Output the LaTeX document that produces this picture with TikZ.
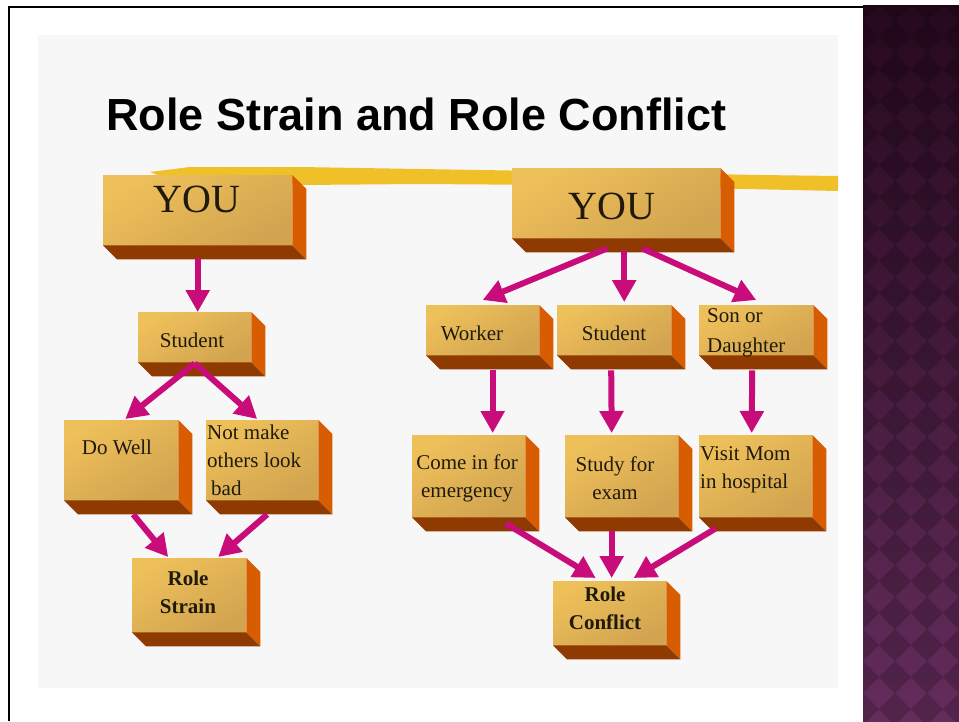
\documentclass[tikz,border=0pt]{standalone}
\usepackage{fontspec}
\setmainfont{Liberation Serif}
\newfontfamily\titlefont{Liberation Sans}
\usetikzlibrary{
  calc
  , arrows.meta
}

\definecolor{slidebg}{RGB}{247,247,247}
\definecolor{facelight}{RGB}{238,192,90}
\definecolor{facedark}{RGB}{210,164,80}
\definecolor{sideorange}{RGB}{216,92,0}
\definecolor{bottombrown}{RGB}{142,58,0}
\definecolor{arrowmag}{RGB}{200,12,122}
\definecolor{marker}{RGB}{240,192,40}
\definecolor{textdark}{RGB}{32,26,12}
\definecolor{purpletop}{RGB}{38,9,30}
\definecolor{purplebot}{RGB}{100,44,92}

\tikzset{
  face/.style={rectangle, inner sep=0pt, anchor=north west,
    top color=facelight, bottom color=facedark, shading angle=30},
  boxtext/.style={font=\fontsize{21}{28}\selectfont, text=textdark, inner sep=0pt},
  rolearrow/.style={draw=arrowmag, line width=6pt,
    -{Triangle[length=22pt,width=23pt]}},
}

\newcommand{\blkdep}{14}
% block: name, left, top, right, bottom
\newcommand{\roleblock}[5]{%
  \node[face, minimum width={#4pt-#2pt}, minimum height={#5pt-#3pt}] (#1) at (#2,#3) {};
  \fill[sideorange] (#1.north east) -- ++(\blkdep,\blkdep)
    -- ([shift={(\blkdep,\blkdep)}]#1.south east) -- (#1.south east) -- cycle;
  \fill[bottombrown] (#1.south west) -- (#1.south east)
    -- ([shift={(\blkdep,\blkdep)}]#1.south east)
    -- ([shift={(\blkdep,\blkdep)}]#1.south west) -- cycle;
}

\begin{document}
\begin{tikzpicture}[x=1pt, y=-1pt]
  \useasboundingbox (0,0) rectangle (959,721);
  \fill[white] (0,0) rectangle (959,721);

  % purple side panel
  \begin{scope}
    \clip (863,5) rectangle (959,721);
    \shade[top color=purpletop, bottom color=purplebot] (863,5) rectangle (959,721);
    \foreach \j in {0,...,23}
      \foreach \i in {0,...,3}
        \fill[black, opacity=0.18] (863+\i*32, 5+\j*32)
          +(0,-16) -- +(16,0) -- +(0,16) -- +(-16,0) -- cycle;
  \end{scope}
  \draw[line width=2.5pt] (9,721) -- (9,7) -- (863,7);

  % slide
  \fill[slidebg] (38,35) rectangle (838,688);
  \node[anchor=base west, inner sep=0pt,
    font=\titlefont\bfseries\fontsize{45}{50}\selectfont] (title) at (106,130)
    {Role Strain and Role Conflict};
  \fill[marker] (150,172) -- (190,167) -- (300,167) -- (420,169) -- (600,172)
    -- (760,175) -- (838,176) -- (838,191) -- (700,188) -- (560,185)
    -- (420,184) -- (300,185) -- (220,182) -- (165,178) -- cycle;

  % role strain
  \roleblock{youL}{103}{175}{292}{245}
  \roleblock{stuL}{138}{312}{251}{362}
  \roleblock{dwell}{64}{420}{178}{500}
  \roleblock{notm}{206}{420}{318}{500}
  \roleblock{rstr}{132}{558}{246}{632}

  \node[boxtext, font=\fontsize{40}{40}\selectfont] (youLt) at (197,199) {YOU};
  \node[boxtext] (stuLt) at (192,340) {Student};
  \node[boxtext] (dwellt) at (117,447) {Do Well};
  \node[boxtext, align=left, anchor=west] (notmt) at (207,460)
    {Not make\\others look\\\hspace{4pt}bad};
  \node[boxtext, align=center, font=\bfseries\fontsize{21}{28}\selectfont] (rstrt)
    at (188,592) {Role\\Strain};

  \draw[rolearrow] ([yshift=-13pt]youL.south) -- (youL.south |- stuL.north);
  \draw[rolearrow] ([yshift=-1pt]stuL.south) -- ([xshift=4pt, yshift=1pt]dwell.north);
  \draw[rolearrow] ([yshift=-1pt]stuL.south) -- ([xshift=-5pt, yshift=1pt]notm.north);
  \draw[rolearrow] ([shift={(12,14)}]dwell.south) -- ([shift={(-21,-1)}]rstr.north);
  \draw[rolearrow] ([shift={(5,14)}]notm.south) -- ([shift={(29,-1)}]rstr.north);

  % role conflict
  \roleblock{youR}{512}{168}{720}{238}
  \roleblock{worker}{426}{305}{539}{355}
  \roleblock{stuR}{557}{305}{671}{355}
  \roleblock{son}{699}{305}{813}{355}
  \roleblock{come}{412}{435}{525}{517}
  \roleblock{study}{565}{435}{678}{517}
  \roleblock{visit}{699}{435}{812}{517}
  \roleblock{rconf}{553}{581}{666}{645}

  \node[boxtext, font=\fontsize{40}{40}\selectfont] (youRt) at (612,206) {YOU};
  \node[boxtext] (workert) at (472,333) {Worker};
  \node[boxtext] (stuRt) at (614,333) {Student};
  \node[boxtext, align=left, anchor=west, font=\fontsize{21}{30}\selectfont] (sont)
    at (707,333) {Son or\\Daughter};
  \node[boxtext, align=center] (comet) at (467,478) {Come in for\\emergency};
  \node[boxtext, align=center] (studyt) at (615,478) {Study for\\exam};
  \node[boxtext, align=left, anchor=west] (visitt) at (700,470)
    {Visit Mom\\in hospital};
  \node[boxtext, align=center, font=\bfseries\fontsize{21}{28}\selectfont] (rconft)
    at (605,608) {Role\\Conflict};

  \draw[rolearrow] ([shift={(-9,10)}]youR.south) -- ([yshift=5pt]worker.north);
  \draw[rolearrow] ([shift={(8,12)}]youR.south) -- ([shift={(10,-3)}]stuR.north);
  \draw[rolearrow] ([shift={(26,10)}]youR.south) -- ([yshift=5pt]son.north);
  \draw[rolearrow] ([shift={(10,15)}]worker.south) -- ([shift={(24,-2)}]come.north);
  \draw[rolearrow] ([shift={(-3,15)}]stuR.south) -- ([shift={(-10,-2)}]study.north);
  \draw[rolearrow] ([shift={(-4,15)}]son.south) -- ([shift={(-4,-2)}]visit.north);
  \draw[rolearrow] ([shift={(37,6)}]come.south) -- ([shift={(-14,-3)}]rconf.north);
  \draw[rolearrow] ([shift={(-10,14)}]study.south) -- ([shift={(2,-3)}]rconf.north);
  \draw[rolearrow] ([shift={(-40,11)}]visit.south) -- ([shift={(24,-3)}]rconf.north);
\end{tikzpicture}
\end{document}
